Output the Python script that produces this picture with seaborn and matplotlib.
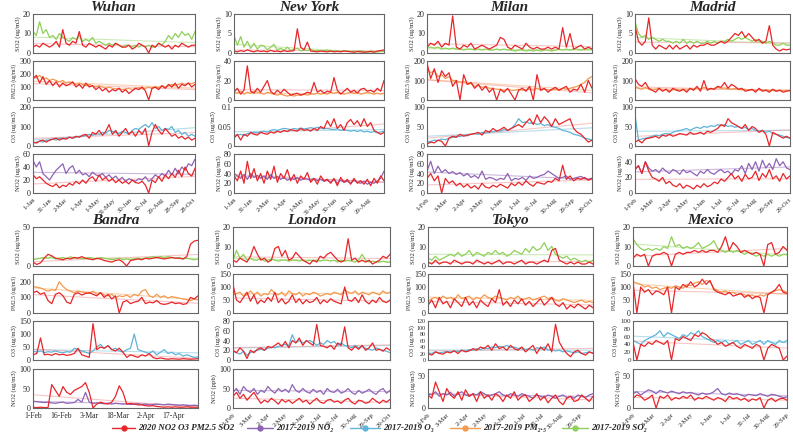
import numpy as np
import pandas as pd
import matplotlib
matplotlib.use('Agg')
import matplotlib.pyplot as plt
import matplotlib.dates as mdates
from matplotlib.lines import Line2D
from matplotlib.ticker import FuncFormatter
import seaborn as sns

sns.set_theme(style='white')
plt.rcParams['font.family'] = ['Liberation Serif', 'DejaVu Serif']

C_RED = '#e8262a'
C_NO2 = '#8e63b5'
C_O3 = '#5fb4d8'
C_PM = '#f29a4f'
C_SO2 = '#8fd05a'

# ---------------- Wuhan ----------------
W_SO2_2020 = [3,4,3,5,4,3,4,6,3,12,5,4,6,5,11,4,3,5,4,3,4,3,2,4,3,5,4,3,3,4,2,3,5,4,3,0,4,3,5,4,3,4,2,4,3,5,4,3,4,4]
W_SO2_BASE = [11,9,16,10,12,8,9,7,10,8,7,6,8,7,9,6,7,6,8,5,6,5,4,5,4,5,4,3,4,4,3,4,3,4,3,4,3,3,5,4,6,9,7,10,8,11,9,10,7,11]
W_PM_2020 = [160,190,130,180,120,150,110,140,100,130,110,120,140,100,120,90,130,100,110,80,100,70,90,60,80,70,90,60,80,50,70,90,80,100,70,0,90,100,80,110,90,120,100,130,90,120,110,130,100,120]
W_PM_BASE = [180,170,190,160,170,150,160,150,140,150,130,140,130,120,130,120,110,120,110,100,110,100,90,100,90,85,90,80,85,90,80,90,95,85,90,100,90,100,95,110,100,110,120,110,120,130,120,130,125,135]
W_O3_2020 = [20,15,25,30,20,30,35,40,30,40,35,45,40,50,45,55,60,40,70,60,80,55,75,110,60,80,50,70,90,60,75,50,80,60,90,0,70,110,80,60,90,70,50,60,40,50,35,45,30,40]
W_O3_BASE = [15,20,25,20,30,30,35,30,40,35,40,45,40,45,50,50,55,60,55,65,60,70,65,80,75,70,65,75,70,60,80,90,85,100,110,95,120,90,100,80,90,85,100,70,80,60,70,50,60,50]
W_NO2_2020 = [28,22,25,20,15,12,10,14,8,12,10,15,12,18,14,20,15,22,25,18,28,20,24,18,22,16,20,15,18,14,20,16,15,18,12,0,20,16,25,18,28,22,30,24,35,25,40,30,26,38]
W_NO2_BASE = [50,40,48,30,25,20,28,35,40,45,30,38,42,30,35,28,30,25,32,28,26,30,24,28,22,26,20,24,18,22,20,18,22,20,25,18,22,28,24,30,26,35,28,38,30,40,35,45,42,52]

# ---------------- New York ----------------
NY_SO2_2020 = [0.5,0.3,0.6,0.4,0.8,0.5,0.3,0.6,0.4,0.5,0.3,0.7,0.4,0.5,0.3,0.6,0.4,0.5,0.6,6.2,1.5,0.8,2.8,0.5,0.4,0.3,0.5,0.4,0.3,0.5,0.3,0.4,0.3,0.5,0.4,0.3,0.2,0.4,0.3,0.2,0.3,0.4,0.2,0.5,0.6,0.8]
NY_SO2_BASE = [4.5,2,4.2,1.5,3,1.2,2.5,1,2,1.8,0.8,1.5,2.2,0.8,1.2,0.7,1.5,0.6,1,1.2,0.5,0.8,0.6,1,0.5,0.7,0.4,0.6,0.8,0.4,0.6,0.5,0.4,0.6,0.5,0.4,0.5,0.4,0.6,0.4,0.3,0.5,0.4,0.3,0.5,0.4]
NY_PM_2020 = [8,12,6,10,35,9,7,12,8,14,20,9,6,10,7,11,8,5,6,7,5,6,8,7,18,8,10,7,9,8,23,10,6,9,12,8,10,7,11,12,9,10,8,12,9,20]
NY_PM_BASE = [8,7,9,6,8,7,9,8,7,6,8,7,6,5,6,5,4,5,4,5,5,6,5,6,6,7,6,7,6,8,7,8,7,6,7,8,7,8,6,7,8,7,6,7,6,7]
NY_O3_2020 = [0.02,0.03,0.015,0.03,0.025,0.035,0.03,0.028,0.035,0.032,0.03,0.036,0.033,0.038,0.035,0.04,0.037,0.042,0.04,0.038,0.045,0.04,0.042,0.038,0.045,0.04,0.05,0.045,0.065,0.05,0.07,0.045,0.055,0.04,0.06,0.068,0.055,0.065,0.05,0.07,0.05,0.06,0.04,0.035,0.03,0.035]
NY_O3_BASE = [0.025,0.028,0.03,0.027,0.032,0.033,0.035,0.034,0.037,0.038,0.036,0.04,0.042,0.04,0.043,0.045,0.044,0.042,0.045,0.043,0.046,0.044,0.045,0.047,0.045,0.048,0.046,0.044,0.045,0.043,0.042,0.044,0.04,0.042,0.04,0.038,0.04,0.037,0.04,0.036,0.038,0.035,0.037,0.034,0.036,0.038]
NY_NO2_2020 = [35,25,45,20,65,30,50,25,40,20,45,28,55,22,40,30,48,25,38,20,35,28,42,22,30,18,35,25,28,20,30,15,32,22,28,18,30,20,25,18,28,15,30,20,35,25]
NY_NO2_BASE = [40,35,30,38,28,40,32,36,30,35,28,38,30,34,28,32,26,30,28,32,26,30,28,26,30,25,28,24,26,22,28,20,26,22,24,20,26,22,20,24,18,22,20,25,30,45]

# ---------------- Milan ----------------
ML_SO2_2020 = [3,5,4,6,3,5,4,19,3,2,4,3,5,2,3,4,3,2,3,4,8,7,3,2,4,3,2,5,3,2,3,2,2,3,2,3,2,13,3,10,2,3,4,2,3,2]
ML_SO2_BASE = [3,3,2.5,3,2,2.5,2,2.5,2,2,1.5,2,2,1.5,2,1.5,2,1.5,1.5,2,1.5,2,1.5,1.5,1,1.5,1.5,1,1.5,1,1.5,1,1.5,1.5,1,1.5,2,1.5,2,1.5,2,2,1.5,2,2,2]
ML_PM_2020 = [190,110,160,90,150,120,140,70,100,0,130,80,90,60,80,50,70,40,60,0,55,40,60,30,0,50,60,45,70,0,130,50,60,40,55,65,50,60,70,40,55,50,80,40,100,60]
ML_PM_BASE = [160,140,150,120,130,110,120,100,100,90,95,80,85,70,75,65,70,60,60,55,55,50,55,50,50,55,50,52,55,50,60,50,55,52,50,55,50,60,55,60,65,70,80,90,110,120]
ML_O3_2020 = [5,10,8,15,12,0,20,25,22,30,25,28,30,32,35,28,40,35,45,38,42,48,40,45,50,55,48,60,70,55,80,60,75,65,50,70,55,60,65,70,45,35,30,20,10,15]
ML_O3_BASE = [10,12,15,14,18,16,20,22,25,24,28,26,30,32,30,35,33,38,36,40,38,42,40,45,55,70,60,62,58,60,55,58,52,55,50,48,45,40,38,35,30,28,25,20,18,15]
ML_NO2_2020 = [30,40,25,35,0,30,20,25,15,20,12,18,10,15,8,20,12,10,16,12,18,14,10,20,15,22,16,25,18,14,22,20,18,24,22,30,25,57,28,35,25,30,28,32,26,30]
ML_NO2_BASE = [45,65,40,55,42,48,40,44,38,42,35,40,32,36,30,45,28,32,30,26,30,28,40,25,30,28,32,26,35,30,32,36,38,45,40,35,30,32,35,28,30,32,34,30,28,30]

# ---------------- Madrid ----------------
MD_SO2_2020 = [7,3,2,3,9,2,1,2,1.5,1,2,1,2,1,1.5,2,1,2,1.5,2,2,2.5,2,2,2.5,3,2.5,3,4,5,4.5,5.5,4,5,4,3,3.5,2.5,3,7,2,1,0.5,1,0.8,1]
MD_SO2_BASE = [8,5,4,4.5,3.5,4,3.5,3,3.5,3,3,2.5,3,2.5,3.5,2.5,3,2.5,3,2.5,2.5,3,2.5,3,2.5,3,3,3.5,3,3.5,4,3.5,4,3.5,3,3.5,3,3,2.5,3,2.5,2,2,2.5,2,2]
MD_PM_2020 = [110,80,70,90,60,50,40,60,45,55,40,60,50,45,55,40,60,50,70,45,100,50,60,55,70,65,90,60,80,70,55,60,45,50,55,40,60,45,50,40,55,45,50,40,45,50]
MD_PM_BASE = [70,60,55,65,55,50,55,60,50,55,48,52,55,50,55,50,58,55,60,55,65,60,55,60,65,60,62,58,55,60,55,52,55,50,52,48,55,50,52,48,50,45,50,48,50,45]
MD_O3_2020 = [10,15,8,18,20,22,25,20,28,25,30,25,28,32,30,28,35,30,32,35,30,38,35,40,45,55,50,70,60,55,50,45,55,40,50,45,35,40,30,0,35,30,25,20,25,20]
MD_O3_BASE = [80,15,18,20,22,25,28,26,30,32,30,35,38,40,42,45,40,45,48,45,50,48,52,50,55,52,55,50,52,48,50,45,48,42,45,40,38,40,35,38,32,30,28,25,22,20]
MD_NO2_2020 = [30,35,25,40,28,20,18,15,20,12,15,10,8,12,6,10,8,5,10,7,12,8,10,14,12,18,15,20,25,18,22,15,24,18,20,28,16,25,20,30,18,22,15,25,18,22]
MD_NO2_BASE = [30,35,25,40,32,28,30,26,32,28,25,30,28,24,30,26,28,25,22,28,25,30,26,24,28,30,26,28,24,30,28,35,25,38,30,40,28,42,32,38,30,44,35,40,32,30]

# ---------------- Bandra ----------------
BD_SO2_2020 = [5,2,4,10,15,13,10,9,8,10,9,11,10,12,10,9,8,10,9,7,6,5,7,8,5,0,7,8,9,8,10,9,10,11,10,9,10,11,10,10,9,12,28,32,33]
BD_SO2_BASE = [8,9,10,11,10,12,9,10,11,9,12,10,11,9,10,11,10,9,11,10,9,8,9,10,8,9,8,9,10,9,10,11,12,11,12,11,12,11,10,11,9,10,9,8,9]
BD_PM_2020 = [130,140,120,130,80,60,120,130,110,70,60,120,130,115,125,130,120,110,130,100,120,90,110,0,70,80,60,70,75,100,60,70,65,80,60,55,60,70,60,65,55,60,100,90,110]
BD_PM_BASE = [170,165,160,150,140,150,145,200,170,150,140,130,140,135,130,125,140,120,130,115,110,120,100,110,105,115,100,120,110,140,150,110,100,120,100,110,95,105,100,95,90,85,80,90,85]
BD_O3_2020 = [20,25,85,20,22,18,25,20,22,18,20,25,45,20,15,10,140,40,50,45,55,40,35,45,30,10,20,15,10,20,15,25,10,5,8,5,3,5,4,3,5,4,3,4,5]
BD_O3_BASE = [35,30,35,28,32,30,35,30,28,32,30,45,40,35,30,25,35,50,60,45,55,40,45,35,30,40,45,100,40,35,30,25,35,20,30,40,25,30,20,25,15,20,15,10,12]
BD_NO2_2020 = [2,1,2,1,1,60,45,30,55,40,35,45,50,55,65,40,0,10,15,12,10,15,30,57,40,10,12,10,8,8,6,5,6,4,3,2,3,2,3,2,2,3,2,2,2]
BD_NO2_BASE = [17,16,15,14,15,13,12,14,15,12,13,14,22,15,40,15,12,13,12,11,12,10,12,11,10,11,9,10,11,9,10,8,9,10,9,8,10,9,8,7,8,7,6,7,6]

# ---------------- London ----------------
LD_SO2_2020 = [3,2,4,3,2,5,10,6,3,4,2,3,9,10,5,8,3,4,7,5,3,2,1,3,2,5,4,6,7,5,3,2,3,14,3,4,2,3,2,3,1,2,3,5,4,6]
LD_SO2_BASE = [3,8,4,6,3,4,3,3,4,2.5,3,3.5,3,2.5,3,3,2.5,3,3,2.5,3,2.5,3,2.5,3,2.5,3,3,2.5,3,2,3,2.5,3,2.5,2,3,6,3,2,2.5,2,2,2.5,2,2]
LD_PM_2020 = [110,50,40,60,80,45,70,35,50,40,60,45,80,40,55,35,45,70,40,55,35,50,40,45,60,35,50,40,55,45,40,35,100,50,45,60,40,70,45,35,50,40,60,45,40,50]
LD_PM_BASE = [70,75,80,65,70,85,70,80,65,75,70,90,75,70,80,65,85,75,70,80,65,75,70,80,75,65,70,75,70,80,75,70,90,80,75,85,70,80,75,70,80,75,70,85,75,80]
LD_O3_2020 = [20,15,25,18,3,20,15,22,25,20,28,25,30,35,28,38,25,40,35,45,30,40,35,30,73,30,28,25,30,22,35,30,68,25,20,28,22,30,20,25,35,20,22,18,25,20]
LD_O3_BASE = [18,15,12,18,10,15,18,20,22,20,24,26,25,28,30,32,30,52,35,40,35,38,40,36,30,35,32,40,35,38,30,35,30,28,25,30,25,28,24,22,20,25,22,20,18,15]
LD_NO2_2020 = [30,40,25,35,20,30,40,25,12,20,15,25,18,10,22,15,20,12,18,25,15,20,10,18,25,15,12,20,22,15,18,12,20,25,15,10,20,18,12,15,25,18,12,20,15,22]
LD_NO2_BASE = [40,50,35,55,45,40,50,35,45,40,55,45,38,50,42,48,40,60,45,40,50,42,38,48,40,45,35,50,42,40,48,38,42,50,40,35,45,38,42,48,40,35,45,50,38,45]

# ---------------- Tokyo ----------------
TK_SO2_2020 = [2,1,3,1,2,2,1,3,2,1,2,2,1,3,2,1,2,1,2,3,1,2,2,1,2,3,1,2,2,1,2,3,2,8,9,3,2,1,2,1,2,1,1,2,1]
TK_SO2_BASE = [4,3,5,3,4,5,6,5,7,5,6,8,5,7,6,5,7,6,8,6,7,5,6,8,7,6,9,7,10,8,9,12,8,10,6,5,4,5,3,4,3,2,3,2,3]
TK_PM_2020 = [30,50,20,60,35,45,20,55,40,25,60,30,45,20,50,35,25,55,40,90,30,45,25,50,35,55,30,45,25,40,55,30,45,60,35,25,40,15,30,20,35,25,15,30,20]
TK_PM_BASE = [45,55,60,50,65,55,60,50,70,55,60,65,50,60,55,70,60,55,65,60,55,50,60,55,65,50,55,60,50,55,60,65,55,60,50,45,55,50,45,40,45,50,40,45,40]
TK_O3_2020 = [20,15,25,20,18,25,22,28,20,30,25,28,35,30,40,35,45,30,50,35,40,30,45,35,30,40,25,35,45,20,40,30,50,25,110,55,35,20,10,25,30,20,15,25,20]
TK_O3_BASE = [22,20,25,22,24,26,25,28,26,30,28,32,30,35,32,38,35,40,38,42,40,45,38,40,35,38,32,35,30,38,35,40,30,32,28,30,25,28,25,22,25,20,22,25,22]
TK_NO2_2020 = [20,15,40,25,10,30,20,15,25,12,28,18,22,10,25,15,20,12,22,18,10,20,15,25,12,18,20,10,15,22,12,18,8,15,20,10,5,15,18,10,12,20,15,10,18]
TK_NO2_BASE = [22,20,25,18,22,20,24,18,22,25,20,18,22,20,25,22,18,20,22,25,20,18,22,20,18,22,20,18,15,20,18,16,20,18,15,18,20,16,18,15,20,18,16,20,22]

# ---------------- Mexico ----------------
MX_SO2_2020 = [4,6,5,6,0,5,6,6,7,6,0,6,7,6,7,7,8,7,8,7,8,8,7,10,15,8,12,10,7,8,7,6,7,6,0,11,12,6,7,10,8]
MX_SO2_BASE = [14,11,9,8,9,8,9,8,10,9,15,10,11,9,10,9,10,12,9,10,11,13,9,8,7,8,7,8,7,6,7,6,5,6,5,6,5,6,5,6,6]
MX_PM_2020 = [120,0,100,80,90,70,85,80,70,100,0,100,90,110,100,120,100,110,130,110,125,90,80,75,70,80,65,70,75,60,70,55,65,60,0,70,80,90,110,80,75]
MX_PM_BASE = [120,115,110,100,105,95,100,90,95,100,95,105,100,95,110,105,115,120,110,125,120,95,85,80,85,75,80,70,75,70,65,70,60,70,65,75,80,85,90,85,80]
MX_O3_2020 = [45,0,40,35,45,40,50,45,40,50,0,55,50,60,55,50,65,60,70,65,55,50,40,45,35,40,45,35,30,40,35,30,40,35,0,30,40,35,30,0,10]
MX_O3_BASE = [50,45,40,50,55,60,65,75,60,70,65,60,55,65,60,70,65,75,60,55,50,45,50,45,50,40,45,50,40,45,50,40,45,50,40,50,45,40,50,45,50]
MX_NO2_2020 = [15,20,18,12,15,20,0,18,15,20,12,16,14,18,15,20,12,16,14,18,15,12,16,14,10,18,14,16,12,15,10,14,12,16,0,12,15,10,14,15,12]
MX_NO2_BASE = [22,25,20,24,28,26,22,27,25,23,26,24,22,25,23,24,22,20,23,21,22,25,30,22,20,23,21,22,20,18,21,20,19,22,20,18,21,20,18,16,17]

LEG_LABELS = ['2020 NO2 O3 PM2.5 SO2', '2017-2019 NO\u2082', '2017-2019 O\u2083',
              '2017-2019 PM\u2082.\u2085', '2017-2019 SO\u2082']
LEG_COLORS = [C_RED, C_NO2, C_O3, C_PM, C_SO2]

UG = '(ug/m3)'
CITIES = [
    dict(name='Wuhan', start='2019-01-01', end='2019-10-31', freq='30D', row=0, lr=(33, 195),
         panels=[('SO2 ' + UG, W_SO2_2020, W_SO2_BASE, C_SO2, (0, 20), [0, 10, 20]),
                 ('PM2.5 ' + UG, W_PM_2020, W_PM_BASE, C_PM, (0, 300), [0, 100, 200, 300]),
                 ('O3 ' + UG, W_O3_2020, W_O3_BASE, C_O3, (0, 200), [0, 100, 200]),
                 ('NO2 ' + UG, W_NO2_2020, W_NO2_BASE, C_NO2, (0, 60), [0, 20, 40, 60])]),
    dict(name='New York', start='2019-01-01', end='2019-09-25', freq='30D', row=0, lr=(234, 384),
         panels=[('SO2 ' + UG, NY_SO2_2020, NY_SO2_BASE, C_SO2, (0, 10), [0, 5, 10]),
                 ('PM2.5 ' + UG, NY_PM_2020, NY_PM_BASE, C_PM, (0, 40), [0, 20, 40]),
                 ('O3 ' + UG, NY_O3_2020, NY_O3_BASE, C_O3, (0, 0.1), [0, 0.05, 0.1]),
                 ('NO2 ' + UG, NY_NO2_2020, NY_NO2_BASE, C_NO2, (0, 80), [0, 20, 40, 60, 80])]),
    dict(name='Milan', start='2019-02-01', end='2019-10-31', freq='30D', row=0, lr=(427, 592),
         panels=[('SO2 ' + UG, ML_SO2_2020, ML_SO2_BASE, C_SO2, (0, 20), [0, 10, 20]),
                 ('PM2.5 ' + UG, ML_PM_2020, ML_PM_BASE, C_PM, (0, 200), [0, 100, 200]),
                 ('O3 ' + UG, ML_O3_2020, ML_O3_BASE, C_O3, (0, 100), [0, 50, 100]),
                 ('NO2 ' + UG, ML_NO2_2020, ML_NO2_BASE, C_NO2, (0, 80), [0, 20, 40, 60, 80])]),
    dict(name='Madrid', start='2019-02-01', end='2019-10-31', freq='30D', row=0, lr=(635, 790),
         panels=[('SO2 ' + UG, MD_SO2_2020, MD_SO2_BASE, C_SO2, (0, 10), [0, 5, 10]),
                 ('PM2.5 ' + UG, MD_PM_2020, MD_PM_BASE, C_PM, (0, 200), [0, 100, 200]),
                 ('O3 ' + UG, MD_O3_2020, MD_O3_BASE, C_O3, (0, 100), [0, 50, 100]),
                 ('NO2 ' + UG, MD_NO2_2020, MD_NO2_BASE, C_NO2, (0, 50), [0, 20, 40])]),
    dict(name='Bandra', start='2019-02-01', end='2019-04-30', freq='15D', row=1, lr=(33, 198),
         panels=[('SO2 ' + UG, BD_SO2_2020, BD_SO2_BASE, C_SO2, (0, 50), [0, 50]),
                 ('PM2.5 ' + UG, BD_PM_2020, BD_PM_BASE, C_PM, (0, 250), [0, 100, 200]),
                 ('O3 ' + UG, BD_O3_2020, BD_O3_BASE, C_O3, (0, 150), [0, 50, 100, 150]),
                 ('NO2 ' + UG, BD_NO2_2020, BD_NO2_BASE, C_NO2, (0, 100), [0, 50, 100])]),
    dict(name='London', start='2019-02-01', end='2019-10-31', freq='30D', row=1, lr=(233, 390),
         panels=[('SO2 ' + UG, LD_SO2_2020, LD_SO2_BASE, C_SO2, (0, 20), [0, 10, 20]),
                 ('PM2.5 ' + UG, LD_PM_2020, LD_PM_BASE, C_PM, (0, 150), [0, 50, 100, 150]),
                 ('O3 ' + UG, LD_O3_2020, LD_O3_BASE, C_O3, (0, 80), [0, 20, 40, 60, 80]),
                 ('NO2 (ppb)', LD_NO2_2020, LD_NO2_BASE, C_NO2, (0, 100), [0, 50, 100])]),
    dict(name='Tokyo', start='2019-02-01', end='2019-10-20', freq='30D', row=1, lr=(428, 593),
         panels=[('SO2 ' + UG, TK_SO2_2020, TK_SO2_BASE, C_SO2, (0, 20), [0, 10, 20]),
                 ('PM2.5 ' + UG, TK_PM_2020, TK_PM_BASE, C_PM, (0, 150), [0, 50, 100, 150]),
                 ('O3 ' + UG, TK_O3_2020, TK_O3_BASE, C_O3, (0, 120), [0, 20, 40, 60, 80, 100, 120]),
                 ('NO2 ' + UG, TK_NO2_2020, TK_NO2_BASE, C_NO2, (0, 60), [0, 50])]),
    dict(name='Mexico', start='2019-02-01', end='2019-09-29', freq='30D', row=1, lr=(633, 787),
         panels=[('SO2 ' + UG, MX_SO2_2020, MX_SO2_BASE, C_SO2, (0, 20), [0, 10, 20]),
                 ('PM2.5 ' + UG, MX_PM_2020, MX_PM_BASE, C_PM, (0, 150), [0, 50, 100, 150]),
                 ('O3 ' + UG, MX_O3_2020, MX_O3_BASE, C_O3, (0, 100), [0, 20, 40, 60, 80, 100]),
                 ('NO2 ' + UG, MX_NO2_2020, MX_NO2_BASE, C_NO2, (0, 60), [0, 50])]),
]

W, H = 793, 440
ROW_TOPS = [[14, 61, 107, 154], [227, 274, 321, 369]]
PH = 39

fig = plt.figure(figsize=(W / 100, H / 100), dpi=100)
fig.patch.set_facecolor('white')


def trend(ax, dates, vals, color):
    d = np.asarray((dates - dates[0]).days, dtype=float)
    k, b = np.polyfit(d, np.asarray(vals, dtype=float), 1)
    sns.lineplot(x=dates, y=k * d + b, ax=ax, color=color, lw=0.8, alpha=0.45, legend=False)


fmt = FuncFormatter(lambda v, p: f'{v:g}')
for city in CITIES:
    l, r = city['lr']
    start, end = pd.Timestamp(city['start']), pd.Timestamp(city['end'])
    for i, (lab, v20, vb, cb, ylim, yt) in enumerate(city['panels']):
        top = ROW_TOPS[city['row']][i]
        ax = fig.add_axes([l / W, 1 - (top + PH) / H, (r - l) / W, PH / H])
        db = pd.date_range(start, end, periods=len(vb))
        d20 = pd.date_range(start, end, periods=len(v20))
        trend(ax, db, vb, cb)
        trend(ax, d20, v20, '#f08080')
        sns.lineplot(x=db, y=vb, ax=ax, color=cb, lw=0.9, legend=False)
        sns.lineplot(x=d20, y=v20, ax=ax, color=C_RED, lw=0.9, legend=False)
        ax.set_xlim(start, end)
        ax.set_ylim(*ylim)
        ax.set_yticks(yt)
        ax.yaxis.set_major_formatter(fmt)
        ax.set_ylabel(lab, fontsize=4.8 if not lab.startswith('PM') else 4.0, labelpad=1.5)
        ax.set_xlabel('')
        nt = len(yt)
        ysize = 5.8 if nt <= 5 else (5 if nt == 6 else 4.3)
        ax.tick_params(axis='y', labelsize=ysize, length=0, pad=1.5)
        for s in ax.spines.values():
            s.set_color('#666666')
            s.set_linewidth(0.8)
        if i == 0:
            ax.set_title(city['name'], fontsize=11, fontweight='bold', fontstyle='italic', pad=1.5)
        if i == 3:
            ticks = pd.date_range(start, end, freq=city['freq'])
            ax.set_xticks(ticks)
            ax.xaxis.set_major_formatter(mdates.DateFormatter('%-d-%b'))
            if city['name'] == 'Bandra':
                ax.tick_params(axis='x', labelsize=5.5, length=2, pad=1)
            else:
                ax.tick_params(axis='x', labelsize=4.8, length=2, pad=1)
                for t in ax.get_xticklabels():
                    t.set_rotation(45)
                    t.set_ha('right')
                    t.set_rotation_mode('anchor')
        else:
            ax.set_xticks([])

# legend row drawn in pixel positions
LEG_HANDLE_X = [(112, 135), (247, 273), (350, 380), (450, 480), (562, 588)]
LEG_Y = 1 - 428 / H
for (x0, x1), c, txt in zip(LEG_HANDLE_X, LEG_COLORS, LEG_LABELS):
    xs = [x0 / W, (x0 + x1) / 2 / W, x1 / W]
    fig.add_artist(Line2D(xs, [LEG_Y] * 3, transform=fig.transFigure, color=c, lw=1,
                          marker='o', ms=3.5, markevery=[1]))
    fig.text((x1 + 3) / W, LEG_Y, txt, ha='left', va='center', fontsize=6.5, fontweight='bold',
             fontstyle='italic', family=['Liberation Serif', 'DejaVu Serif'])

fig.savefig('out.png', dpi=100, facecolor='white')
